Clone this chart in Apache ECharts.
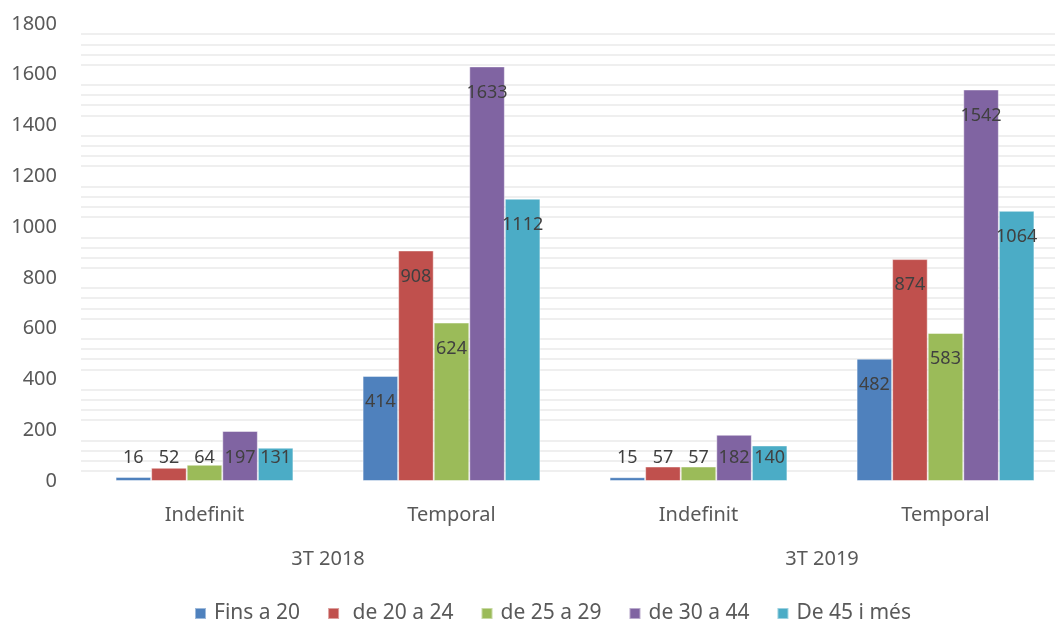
<!DOCTYPE html>
<html>
<head>
<meta charset="utf-8">
<title>Contractes per edat</title>
<script src="https://cdn.jsdelivr.net/npm/echarts@6/dist/echarts.min.js"></script>
<style>
  html, body { margin: 0; padding: 0; background: #ffffff; }
  #chart { width: 1055px; height: 619px; }
</style>
</head>
<body>
<div id="chart"></div>
<script>
  // categories
  const contractTypes = ['Indefinit', 'Temporal', 'Indefinit', 'Temporal'];
  const periods = ['3T 2018', '3T 2019'];
  const ageGroups = ['Fins a 20', ' de 20 a 24', 'de 25 a 29', 'de 30 a 44', 'De 45 i més'];

  // values per age group, in order of contractTypes
  const fins20 = [16, 414, 15, 482];
  const de20a24 = [52, 908, 57, 874];
  const de25a29 = [64, 624, 57, 583];
  const de30a44 = [197, 1633, 182, 1542];
  const de45 = [131, 1112, 140, 1064];

  const yTicks = [0, 200, 400, 600, 800, 1000, 1200, 1400, 1600, 1800];

  const colors = ['#4F81BD', '#C0504D', '#9BBB59', '#8064A2', '#4BACC6'];
  const font = 'Noto Sans';

  const allValues = [fins20, de20a24, de25a29, de30a44, de45];

  // short bars get the label near the base, like Excel does
  function toItems(values) {
    return values.map(v => ({
      value: v,
      label: v < 200
        ? { position: 'insideBottom', distance: 14 }
        : { position: 'insideTop', distance: 17 }
    }));
  }

  const series = ageGroups.map((name, i) => ({
    name: name,
    type: 'bar',
    xAxisIndex: 0,
    barGap: '0%',
    barCategoryGap: '28%',
    itemStyle: {
      color: colors[i],
      borderColor: 'rgba(255,255,255,0.45)',
      borderWidth: 1
    },
    label: {
      show: true,
      color: '#404040',
      fontFamily: font,
      fontSize: 18
    },
    data: toItems(allValues[i])
  }));

  const myChart = echarts.init(document.getElementById('chart'));
  const option = {
    animation: false,
    color: colors,
    grid: {
      left: 81,
      width: 988,
      top: 24,
      bottom: 138,
      containLabel: false,
      outerBoundsMode: 'none'
    },
    legend: {
      top: 598,
      left: 189,
      itemWidth: 11,
      itemHeight: 11,
      itemGap: 27,
      icon: 'rect',
      textStyle: {
        color: '#595959',
        fontFamily: font,
        fontSize: 21,
        padding: [0, 0, 0, 3]
      },
      data: ageGroups
    },
    xAxis: [
      {
        type: 'category',
        data: contractTypes,
        position: 'bottom',
        axisLine: { show: false },
        axisTick: { show: false },
        axisLabel: {
          margin: 24,
          color: '#595959',
          fontFamily: font,
          fontSize: 20
        }
      },
      {
        type: 'category',
        data: periods,
        position: 'bottom',
        axisLine: { show: false },
        axisTick: { show: false },
        splitLine: { show: false },
        axisLabel: {
          margin: 68,
          color: '#595959',
          fontFamily: font,
          fontSize: 20
        }
      }
    ],
    yAxis: {
      type: 'value',
      min: yTicks[0],
      max: yTicks[yTicks.length - 1],
      interval: yTicks[1] - yTicks[0],
      axisLine: { show: false },
      axisTick: { show: false },
      splitLine: { show: false },
      minorTick: { show: false, splitNumber: 5 },
      minorSplitLine: {
        show: true,
        lineStyle: { color: '#efefef', width: 2 }
      },
      axisLabel: {
        margin: 24,
        color: '#595959',
        fontFamily: font,
        fontSize: 20,
        formatter: v => String(v)
      }
    },
    series: series
  };
  myChart.setOption(option);
</script>
</body>
</html>
